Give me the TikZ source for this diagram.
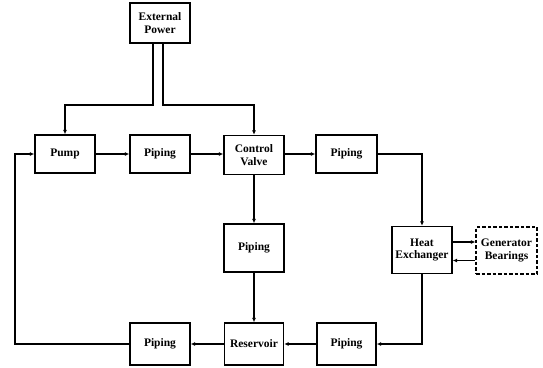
\documentclass[tikz,border=0pt]{standalone}
\usepackage{fontspec}
\setmainfont{Liberation Serif}
\usetikzlibrary{arrows.meta,calc}
\begin{document}
\begin{tikzpicture}[x=1pt,y=-1pt,
  box/.style={draw,line width=1.4pt,align=center,inner sep=1pt,
    font=\bfseries\fontsize{11.5}{12.5}\selectfont,minimum width=60pt,minimum height=40pt},
  dbox/.style={box,line width=1.1pt,dash pattern=on 3.5pt off 2pt},
  flow/.style={line width=1.3pt,-{Latex[length=4.5pt,width=4pt]}}]
\useasboundingbox (0,0) rectangle (543,367);
\node[box,minimum height=40pt] (ext) at (160,23) {External\\Power};
\node[box,minimum height=38pt] (pump) at (65,154) {Pump};
\node[box,minimum height=38pt] (pip1) at (160,154) {Piping};
\node[box,minimum height=39pt] (cv) at (254,155) {Control\\Valve};
\node[box,minimum height=38pt,minimum width=61pt] (pip2) at (346.5,154) {Piping};
\node[box,minimum height=48pt] (pipm) at (254,248) {Piping};
\node[box,minimum height=47pt] (he) at (422,250) {Heat\\Exchanger};
\node[dbox,minimum height=47pt,minimum width=61pt] (gb) at (506.5,250.5) {Generator\\Bearings};
\node[box,minimum height=42pt] (pip4) at (160,344) {Piping};
\node[box,minimum height=42pt,minimum width=59pt] (res) at (254,344) {Reservoir};
\node[box,minimum height=42pt,minimum width=59pt] (pip3) at (346.5,344) {Piping};
\coordinate (e1) at ($(ext.south)+(-7,0)$);
\coordinate (e2) at ($(ext.south)+(3,0)$);
\coordinate (ll) at (15,0);
\coordinate (h1) at ($(he.east)+(0,-8)$);
\coordinate (g2) at ($(gb.west)+(0,10)$);
\draw[flow] (e1) -- (e1 |- 0,105) -- (pump.north |- 0,105) -- (pump.north);
\draw[flow] (e2) -- (e2 |- 0,105) -- (cv.north |- 0,105) -- (cv.north);
\draw[flow] (pump.east) -- (pump.east -| pip1.west);
\draw[flow] (pip1.east) -- (pip1.east -| cv.west);
\draw[flow] (cv.east |- pip2.west) -- (pip2.west);
\draw[flow] (pip2.east) -- (pip2.east -| he.north) -- (he.north);
\draw[flow] (h1) -- (h1 -| gb.west);
\draw[flow] (g2) -- (g2 -| he.east);
\draw[flow] (cv.south) -- (pipm.north);
\draw[flow] (pipm.south) -- (res.north);
\draw[flow] (he.south) -- (he.south |- pip3.east) -- (pip3.east);
\draw[flow] (pip3.west) -- (res.east);
\draw[flow] (res.west) -- (pip4.east);
\draw[flow] (pip4.west) -- (pip4.west -| ll) -- (ll |- pump.west) -- (pump.west);
\end{tikzpicture}
\end{document}
